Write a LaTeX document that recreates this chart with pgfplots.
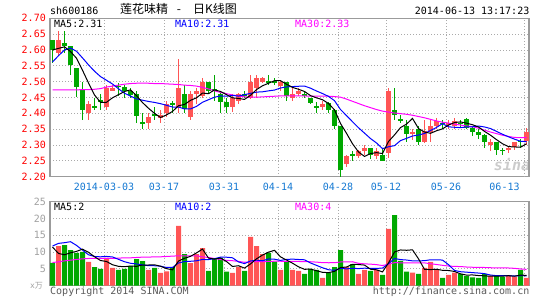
\documentclass[border=0pt]{standalone}
\usepackage{fontspec}
\setmainfont{DejaVu Sans Mono}
\newfontfamily\cjk{Noto Sans CJK SC}
\usepackage{pgfplots}
\usepackage{pgfplotstable}
\pgfplotsset{compat=1.18}

\definecolor{kred}{RGB}{255,85,85}
\definecolor{kgreen}{RGB}{0,168,0}
\definecolor{kblue}{RGB}{0,0,255}
\definecolor{kmag}{RGB}{255,0,255}
\definecolor{kframe}{RGB}{155,155,155}
\definecolor{kgrid}{RGB}{170,170,170}
\definecolor{kdate}{RGB}{20,120,210}
\definecolor{kvol}{RGB}{160,160,160}
\definecolor{kfoot}{RGB}{90,90,90}
\definecolor{ktick}{RGB}{255,0,0}

% up days (red): index, open, high, low, close, volume
\pgfplotstableread{
i o h l c v
1 2.59 2.66 2.58 2.63 11.8
6 2.40 2.44 2.38 2.43 7.1
9 2.42 2.49 2.41 2.48 8.3
10 2.47 2.49 2.47 2.48 5.3
16 2.37 2.40 2.35 2.39 4.7
18 2.385 2.41 2.37 2.395 3.8
19 2.40 2.44 2.39 2.43 4.3
21 2.42 2.57 2.40 2.48 17.8
23 2.39 2.47 2.38 2.46 6.7
24 2.46 2.48 2.43 2.47 9.4
25 2.455 2.51 2.45 2.50 11.2
30 2.42 2.46 2.405 2.45 3.8
31 2.44 2.465 2.43 2.46 5.5
33 2.45 2.52 2.445 2.50 14.5
34 2.48 2.52 2.45 2.51 11.8
35 2.50 2.515 2.495 2.51 9.4
38 2.485 2.505 2.47 2.50 4.7
40 2.45 2.48 2.44 2.46 4.7
41 2.46 2.48 2.455 2.47 4.4
45 2.42 2.44 2.41 2.43 2.3
49 2.24 2.27 2.23 2.265 5.5
51 2.265 2.285 2.26 2.28 3.5
52 2.28 2.30 2.27 2.29 4.7
54 2.265 2.29 2.255 2.28 4.7
56 2.275 2.48 2.26 2.47 16.9
60 2.335 2.35 2.315 2.342 3.9
62 2.31 2.38 2.305 2.345 5.3
63 2.34 2.38 2.31 2.36 7.1
64 2.36 2.385 2.35 2.375 4.7
66 2.363 2.38 2.35 2.37 3.2
67 2.36 2.385 2.35 2.375 3.9
73 2.30 2.32 2.28 2.31 2.9
76 2.283 2.295 2.275 2.292 2.9
77 2.295 2.31 2.285 2.31 2.7
79 2.312 2.353 2.30 2.342 2.3
}\up

% down days (green)
\pgfplotstableread{
i o h l c v
0 2.63 2.63 2.56 2.60 6.8
2 2.622 2.66 2.59 2.613 12.1
3 2.613 2.613 2.52 2.553 10.6
4 2.542 2.542 2.452 2.484 9.8
5 2.473 2.50 2.38 2.41 10.1
7 2.421 2.45 2.41 2.421 5.5
8 2.442 2.46 2.41 2.435 5.0
11 2.486 2.495 2.456 2.486 4.7
12 2.484 2.49 2.45 2.47 5.0
13 2.47 2.48 2.45 2.458 5.9
14 2.46 2.47 2.37 2.392 7.9
15 2.371 2.40 2.35 2.371 7.3
17 2.395 2.42 2.38 2.395 5.3
20 2.432 2.44 2.40 2.43 5.5
22 2.461 2.49 2.40 2.413 9.4
26 2.50 2.50 2.46 2.47 4.4
27 2.474 2.52 2.44 2.474 7.9
28 2.461 2.47 2.40 2.435 8.3
29 2.435 2.45 2.40 2.421 4.2
32 2.46 2.47 2.45 2.455 4.4
36 2.50 2.52 2.49 2.50 9.8
37 2.502 2.51 2.49 2.495 7.2
39 2.50 2.50 2.44 2.456 7.1
42 2.458 2.47 2.45 2.458 3.5
43 2.447 2.45 2.43 2.432 5.0
44 2.421 2.435 2.40 2.421 4.7
46 2.432 2.435 2.40 2.411 3.9
47 2.41 2.415 2.35 2.361 5.5
48 2.361 2.361 2.195 2.221 10.6
50 2.27 2.28 2.25 2.268 6.4
53 2.292 2.292 2.255 2.268 4.4
55 2.27 2.29 2.249 2.249 3.2
57 2.41 2.48 2.38 2.395 21.0
58 2.379 2.395 2.37 2.379 7.4
59 2.361 2.38 2.31 2.334 4.2
61 2.35 2.36 2.30 2.308 3.5
65 2.368 2.38 2.35 2.368 2.3
68 2.368 2.38 2.355 2.368 3.5
69 2.382 2.385 2.35 2.355 2.9
70 2.353 2.36 2.33 2.342 2.5
71 2.342 2.35 2.32 2.331 2.3
72 2.332 2.335 2.29 2.31 3.5
74 2.31 2.31 2.27 2.284 2.9
75 2.284 2.29 2.27 2.284 2.7
78 2.312 2.318 2.29 2.312 4.7
}\down

% moving averages (price and volume)
\pgfplotstableread{
i ma5 ma10 ma30 vma5 vma10 vma30
0 2.600 2.562 2.474 11.5 11.8 6.9
1 2.605 2.582 2.474 9.6 12.6 7.1
2 2.610 2.600 2.474 9.2 12.8 7.4
3 2.595 2.606 2.474 9.8 13.1 7.6
4 2.574 2.596 2.474 10.22 12.0 7.8
5 2.536 2.575 2.475 10.88 10.6 8.0
6 2.496 2.553 2.475 9.94 9.2 8.1
7 2.458 2.533 2.476 8.62 8.7 8.1
8 2.435 2.516 2.478 7.50 8.6 8.1
9 2.435 2.5045 2.483 7.20 8.71 8.1
10 2.449 2.4925 2.486 6.24 8.56 8.1
11 2.459 2.4775 2.489 5.76 7.85 8.2
12 2.469 2.4635 2.492 5.66 7.14 8.3
13 2.474 2.4545 2.494 5.84 6.67 8.3
14 2.456 2.4455 2.495 5.76 6.48 8.4
15 2.434 2.4415 2.495 6.16 6.20 8.5
16 2.416 2.4375 2.495 6.16 5.96 8.5
17 2.400 2.4345 2.494 6.22 5.94 8.6
18 2.387 2.4305 2.494 5.80 5.82 8.6
19 2.395 2.4255 2.493 5.08 5.42 8.7
20 2.406 2.420 2.492 4.72 5.44 8.8
21 2.424 2.420 2.491 7.34 6.75 8.9
22 2.428 2.414 2.489 8.16 7.19 8.9
23 2.441 2.414 2.488 8.74 7.27 8.9
24 2.449 2.422 2.486 9.76 7.42 8.9
25 2.464 2.435 2.482 10.90 7.81 8.6
26 2.462 2.443 2.477 8.22 7.78 8.4
27 2.474 2.451 2.471 7.92 8.04 8.1
28 2.469 2.455 2.466 8.24 8.49 7.8
29 2.459 2.454 2.462 7.20 8.48 7.54
30 2.449 2.4565 2.458 5.72 8.31 7.44
31 2.447 2.4545 2.455 5.94 7.08 7.23
32 2.444 2.459 2.452 5.24 6.58 6.97
33 2.457 2.463 2.451 6.48 7.36 7.10
34 2.475 2.467 2.451 8.00 7.60 7.17
35 2.487 2.468 2.452 9.12 7.42 7.14
36 2.495 2.471 2.453 9.98 7.96 7.23
37 2.503 2.4735 2.454 10.54 7.89 7.29
38 2.503 2.480 2.455 8.58 7.53 7.28
39 2.492 2.4835 2.455 7.64 7.82 7.24
40 2.482 2.4845 2.455 6.70 7.91 7.22
41 2.476 2.4855 2.455 5.62 7.80 7.21
42 2.469 2.486 2.455 4.88 7.71 7.16
43 2.456 2.4795 2.454 4.94 6.76 7.13
44 2.449 2.4705 2.454 4.46 6.05 7.02
45 2.443 2.4625 2.454 3.98 5.34 6.86
46 2.431 2.4535 2.454 3.88 4.75 6.83
47 2.411 2.440 2.453 4.28 4.58 6.84
48 2.368 2.412 2.451 5.40 5.17 7.06
49 2.337 2.393 2.445 5.56 5.01 7.10
50 2.304 2.3735 2.438 6.38 5.18 7.13
51 2.278 2.3545 2.431 6.30 5.09 6.66
52 2.264 2.3375 2.424 6.14 5.21 6.50
53 2.273 2.3205 2.418 4.90 5.15 6.42
54 2.276 2.3065 2.412 4.74 5.15 6.27
55 2.273 2.2885 2.407 4.10 5.24 6.00
56 2.311 2.2945 2.404 6.78 6.54 6.42
57 2.332 2.298 2.401 10.04 8.09 6.85
58 2.355 2.314 2.399 10.64 7.77 6.82
59 2.366 2.321 2.397 10.54 7.64 6.82
60 2.384 2.3285 2.394 10.68 7.39 6.83
61 2.352 2.3315 2.390 8.00 7.39 6.76
62 2.341 2.3365 2.386 4.86 7.45 6.79
63 2.337 2.346 2.381 4.80 7.72 6.54
64 2.345 2.3555 2.376 4.90 7.72 6.31
65 2.351 2.3675 2.372 4.58 7.63 6.07
66 2.363 2.3575 2.369 4.52 6.26 5.85
67 2.371 2.356 2.366 4.24 4.55 5.74
68 2.373 2.355 2.363 3.52 4.16 5.70
69 2.369 2.357 2.360 3.16 4.03 5.56
70 2.364 2.3575 2.358 3.20 3.89 5.49
71 2.357 2.360 2.353 3.02 3.77 5.42
72 2.343 2.357 2.347 2.94 3.59 5.42
73 2.331 2.352 2.341 2.82 3.17 5.35
74 2.317 2.343 2.336 2.82 2.99 5.29
75 2.304 2.334 2.331 2.86 3.03 5.30
76 2.295 2.326 2.327 2.98 3.00 5.27
77 2.294 2.3185 2.324 2.82 2.88 5.17
78 2.293 2.312 2.323 3.18 3.00 4.98
79 2.304 2.3105 2.323 3.06 2.94 4.87
}\ma

\pgfplotsset{
  kbase/.style={
    scale only axis, width=479pt,
    xmin=-0.4167, xmax=79.4167,
    axis line style={draw=kframe, line width=1.5pt},
    major tick length=0pt, tick style={draw=none},
    grid=major,
    grid style={draw=kgrid, line width=0.9pt, dash pattern=on 1pt off 2pt},
    xtick={8.583,18.583,28.583,37.583,47.583,55.583,65.583},
    extra x ticks={78.583},
    /pgf/number format/assume math mode=true,
    tick label style={font=\fontsize{10}{12}\selectfont},
    yticklabel style={anchor=east, inner sep=0pt, xshift=-4pt},
  },
  wick/.style={draw=none, mark=none, forget plot,
    /pgfplots/error bars/y dir=both,
    /pgfplots/error bars/y explicit,
    /pgfplots/error bars/error mark=none,
    /pgfplots/error bars/error bar style={draw=#1, line width=1pt}},
  body/.style={draw=none, mark=none, forget plot,
    /pgfplots/error bars/y dir=both,
    /pgfplots/error bars/y explicit,
    /pgfplots/error bars/error mark=none,
    /pgfplots/error bars/error bar style={draw=#1, line width=5pt}},
  maline/.style={draw=#1, line width=1pt, mark=none, forget plot},
}

\begin{document}
\begin{tikzpicture}[font=\fontsize{10}{12}\selectfont]
\useasboundingbox (0,0) rectangle (545pt,300pt);

% watermark
\node[text=black!20, inner sep=0pt, font=\fontsize{15}{15}\selectfont\bfseries\itshape] at (512pt,135pt) {sina};

% ---------------- price panel ----------------
\begin{axis}[kbase, at={(50pt,123.3pt)}, anchor=south west, height=158.4pt,
  ymin=2.2, ymax=2.7,
  ytick={2.2,2.25,2.3,2.35,2.4,2.45,2.5,2.55,2.6,2.65,2.7},
  yticklabel style={text=ktick,
    /pgf/number format/fixed, /pgf/number format/fixed zerofill,
    /pgf/number format/precision=2},
  xticklabels={2014-03-03,03-17,03-31,04-14,04-28,05-12,05-26},
  xticklabel style={text=kdate, anchor=base, inner sep=0pt, yshift=-13.3pt},
  extra x tick labels={06-13},
  extra x tick style={grid=major, xticklabel style={xshift=-19.5pt}},
]
\addplot[wick=kred] table[x=i, y expr={(\thisrow{h}+\thisrow{l})/2},
  y error expr={(\thisrow{h}-\thisrow{l})/2}] {\up};
\addplot[body=kred] table[x=i, y expr={(\thisrow{o}+\thisrow{c})/2},
  y error expr={max(abs(\thisrow{c}-\thisrow{o})/2,0.0016)}] {\up};
\addplot[wick=kgreen] table[x=i, y expr={(\thisrow{h}+\thisrow{l})/2},
  y error expr={(\thisrow{h}-\thisrow{l})/2}] {\down};
\addplot[body=kgreen] table[x=i, y expr={(\thisrow{o}+\thisrow{c})/2},
  y error expr={max(abs(\thisrow{c}-\thisrow{o})/2,0.0016)}] {\down};
\addplot[maline=kmag] table[x=i, y=ma30] {\ma};
\addplot[maline=kblue] table[x=i, y=ma10] {\ma};
\addplot[maline=black] table[x=i, y=ma5] {\ma};
\end{axis}

% ---------------- volume panel ----------------
\begin{axis}[kbase, at={(50pt,14.3pt)}, anchor=south west, height=84pt,
  ymin=0, ymax=25, ytick={5,10,15,20,25},
  yticklabel style={text=kvol},
  xticklabels={}, extra x tick labels={},
  extra x tick style={grid=major},
]
\addplot[ybar, bar width=5pt, bar shift=0pt, fill=kred, draw=none, forget plot]
  table[x=i, y=v] {\up};
\addplot[ybar, bar width=5pt, bar shift=0pt, fill=kgreen, draw=none, forget plot]
  table[x=i, y=v] {\down};
\addplot[maline=kmag] table[x=i, y=vma30] {\ma};
\addplot[maline=kblue] table[x=i, y=vma10] {\ma};
\addplot[maline=black] table[x=i, y=vma5] {\ma};
\end{axis}

% ---------------- texts ----------------
\node[anchor=base west, inner sep=0pt] at (50pt,285pt) {sh600186};
\node[anchor=base west, inner sep=0pt, font=\cjk\fontsize{12}{14}\selectfont] at (120pt,286pt) {莲花味精};
\node[anchor=base, inner sep=0pt, font=\cjk\fontsize{12}{14}\selectfont] at (179pt,286pt) {-};
\node[anchor=base west, inner sep=0pt, font=\cjk\fontsize{12}{14}\selectfont] at (193pt,286pt) {日K线图};
\node[anchor=base east, inner sep=0pt] at (529.5pt,285pt) {2014-06-13 13:17:23};

\node[anchor=base west, inner sep=0pt] at (54pt,272.7pt) {MA5:2.31};
\node[anchor=base west, inner sep=0pt, text=kblue] at (175pt,272.7pt) {MA10:2.31};
\node[anchor=base west, inner sep=0pt, text=kmag] at (295pt,272.7pt) {MA30:2.33};

\node[anchor=base west, inner sep=0pt] at (54pt,90pt) {MA5:2};
\node[anchor=base west, inner sep=0pt, text=kblue] at (175pt,90pt) {MA10:2};
\node[anchor=base west, inner sep=0pt, text=kmag] at (295pt,90pt) {MA30:4};

\node[inner sep=0pt, text=kvol, font=\fontsize{8}{9}\selectfont] at (36.5pt,14pt) {x{\cjk 万}};
\node[anchor=base west, inner sep=0pt, text=kfoot] at (50pt,6pt) {Copyright 2014 SINA.COM};
\node[anchor=base east, inner sep=0pt, text=kfoot] at (529.5pt,6pt) {http://finance.sina.com.cn};
\end{tikzpicture}
\end{document}
